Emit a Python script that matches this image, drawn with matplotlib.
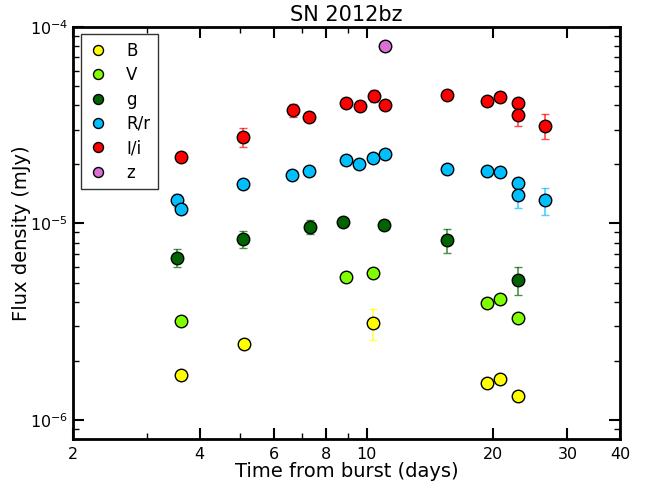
import numpy as np
import matplotlib
matplotlib.use('Agg')
import matplotlib.pyplot as plt
from matplotlib.ticker import FixedLocator, FixedFormatter, NullFormatter

# Photometry of SN 2012bz (time in days, flux density in mJy)
t_B = [3.61, 5.10, 10.34, 19.28, 20.7, 22.9]
f_B = [1.70e-6, 2.43e-6, 3.11e-6, 1.55e-6, 1.62e-6, 1.32e-6]
e_B = [0.05e-6, 0.08e-6, 0.57e-6, 0.05e-6, 0.05e-6, 0.08e-6]

t_V = [3.61, 8.91, 10.34, 19.28, 20.7, 22.9]
f_V = [3.20e-6, 5.37e-6, 5.59e-6, 3.93e-6, 4.12e-6, 3.30e-6]
e_V = [0.08e-6, 0.25e-6, 0.30e-6, 0.15e-6, 0.15e-6, 0.15e-6]

t_g = [3.53, 5.07, 7.33, 8.79, 11.0, 15.48, 22.9]
f_g = [6.71e-6, 8.31e-6, 9.60e-6, 1.018e-5, 9.86e-6, 8.22e-6, 5.15e-6]
e_g = [0.70e-6, 0.85e-6, 0.80e-6, 0.30e-6, 0.30e-6, 1.15e-6, 0.85e-6]

t_R = [3.53, 3.61, 5.07, 6.65, 7.30, 8.91, 9.59, 10.34, 11.05,
       15.48, 19.28, 20.7, 22.9, 22.9, 26.5]
f_R = [1.31e-5, 1.19e-5, 1.59e-5, 1.77e-5, 1.85e-5, 2.10e-5, 2.00e-5, 2.16e-5, 2.27e-5,
       1.90e-5, 1.86e-5, 1.83e-5, 1.61e-5, 1.40e-5, 1.31e-5]
e_R = [0.10e-5, 0.03e-5, 0.08e-5, 0.03e-5, 0.03e-5, 0.05e-5, 0.03e-5, 0.10e-5, 0.05e-5,
       0.08e-5, 0.03e-5, 0.03e-5, 0.05e-5, 0.20e-5, 0.20e-5]

t_I = [3.61, 5.07, 6.66, 7.30, 8.92, 9.61, 10.38, 11.05,
       15.48, 19.28, 20.7, 22.9, 22.9, 26.5]
f_I = [2.18e-5, 2.75e-5, 3.77e-5, 3.50e-5, 4.10e-5, 3.98e-5, 4.47e-5, 4.03e-5,
       4.53e-5, 4.22e-5, 4.40e-5, 4.10e-5, 3.58e-5, 3.15e-5]
e_I = [0.05e-5, 0.30e-5, 0.28e-5, 0.08e-5, 0.10e-5, 0.08e-5, 0.32e-5, 0.08e-5,
       0.15e-5, 0.10e-5, 0.20e-5, 0.10e-5, 0.45e-5, 0.45e-5]

t_z = [11.05]
f_z = [7.96e-5]
e_z = [0.40e-5]

bands = [('B', t_B, f_B, e_B, '#ffff00'),
         ('V', t_V, f_V, e_V, '#7fff00'),
         ('g', t_g, f_g, e_g, '#006400'),
         ('R/r', t_R, f_R, e_R, '#00bfff'),
         ('I/i', t_I, f_I, e_I, '#ff0000'),
         ('z', t_z, f_z, e_z, '#da70d6')]

fig = plt.figure(figsize=(6.48, 4.88), dpi=100)
ax = fig.add_axes([0.1127, 0.1004, 0.8441, 0.8443])

for name, t, f, e, col in bands:
    ax.errorbar(t, f, yerr=e, fmt='none', ecolor=col, alpha=0.7,
                elinewidth=1.2, capsize=3)
    ax.plot(t, f, 'o', color=col, markeredgecolor='black',
            markeredgewidth=1.0, markersize=9, label=name)

ax.set_xscale('log')
ax.set_yscale('log')
ax.set_xlim(2, 40)
ax.set_ylim(8e-7, 1e-4)

xmaj = [2, 4, 6, 8, 10, 20, 30, 40]
ax.xaxis.set_major_locator(FixedLocator(xmaj))
ax.xaxis.set_major_formatter(FixedFormatter([str(v) for v in xmaj]))
ax.xaxis.set_minor_locator(FixedLocator([3, 5, 7, 9]))
ax.xaxis.set_minor_formatter(NullFormatter())

ax.tick_params(which='both', direction='in', top=True, right=True, labelsize=11.5)
ax.tick_params(which='major', length=8, width=1.5)
ax.tick_params(which='minor', length=4, width=1.0)
ax.tick_params(axis='x', which='major', pad=6)
for s in ax.spines.values():
    s.set_linewidth(2)

ax.set_xlabel('Time from burst (days)', fontsize=14, labelpad=0)
ax.set_ylabel('Flux density (mJy)', fontsize=14, labelpad=-1)
ax.set_title('SN 2012bz', fontsize=15, pad=4)

leg = ax.legend(loc='upper left', numpoints=1, fontsize=12, labelspacing=0.38,
                handlelength=1.2, handletextpad=1.1, borderpad=0.45,
                markerscale=0.8, fancybox=False, borderaxespad=0.45)
leg.get_frame().set_edgecolor('black')
leg.get_frame().set_linewidth(1.0)

fig.savefig('out.png', dpi=100)
